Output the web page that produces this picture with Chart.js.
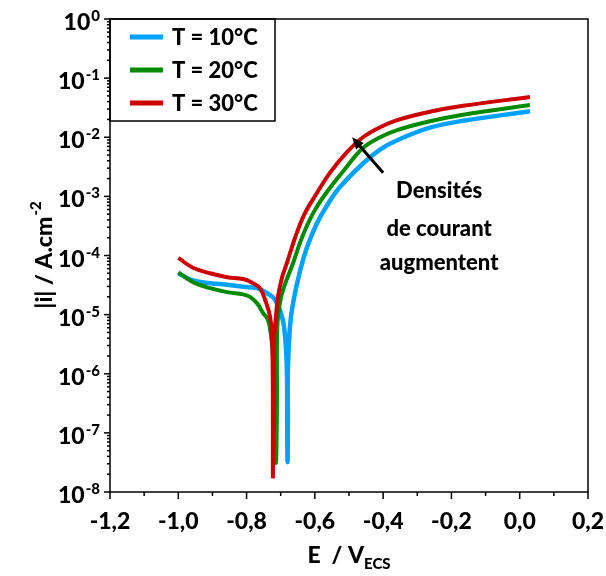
<!DOCTYPE html>
<html>
<head>
<meta charset="utf-8">
<title>Courbes de Tafel</title>
<script src="https://cdn.jsdelivr.net/npm/chart.js@4.4.1/dist/chart.umd.min.js"></script>
<style>
    html, body { margin: 0; padding: 0; background: #fff; }
    #wrap { width: 606px; height: 576px; position: relative; }
</style>
</head>
<body>
<div id="wrap"><canvas id="tafelChart"></canvas></div>
<script>
// potential E (V/ECS) and current density |i| (A.cm-2)
const eBlue = [-1.00, -0.957, -0.907, -0.857, -0.810, -0.769, -0.740, -0.717, -0.696, -0.687, -0.682, -0.681, -0.680,
    -0.679, -0.679, -0.673, -0.664, -0.643, -0.623, -0.594, -0.564, -0.526, -0.459, -0.409, -0.359, -0.263, -0.166, 0.030];
const iBlue = [5.0e-5, 3.8e-5, 3.4e-5, 3.2e-5, 2.95e-5, 2.8e-5, 2.3e-5, 1.8e-5, 9.1e-6, 4.2e-6, 1.15e-6, 1.6e-7, 3.2e-8,
    1.6e-7, 1.15e-6, 6.2e-6, 1.55e-5, 5.6e-5, 1.38e-4, 3.5e-4, 7.1e-4, 1.45e-3, 3.6e-3, 6.2e-3, 8.9e-3, 1.45e-2, 1.9e-2, 2.75e-2];

const eGreen = [-1.00, -0.957, -0.907, -0.857, -0.810, -0.790, -0.769, -0.752, -0.737, -0.728, -0.723, -0.717, -0.714,
    -0.711, -0.711, -0.708, -0.696, -0.664, -0.638, -0.605, -0.567, -0.506, -0.459, -0.409, -0.359, -0.263, -0.166, 0.030];
const iGreen = [5.2e-5, 3.55e-5, 2.8e-5, 2.4e-5, 2.2e-5, 2.0e-5, 1.55e-5, 1.07e-5, 8.1e-6, 4.2e-6, 2.2e-6, 3.5e-7, 3.1e-8,
    3.5e-7, 3.3e-6, 9.1e-6, 2.3e-5, 7.4e-5, 2.0e-4, 5.2e-4, 1.14e-3, 3.2e-3, 6.6e-3, 1.0e-2, 1.32e-2, 1.86e-2, 2.4e-2, 3.5e-2];

const eRed = [-1.00, -0.957, -0.907, -0.857, -0.810, -0.781, -0.761, -0.746, -0.731, -0.725, -0.723, -0.723,
    -0.720, -0.720, -0.714, -0.708, -0.696, -0.682, -0.658, -0.629, -0.594, -0.556, -0.506, -0.459, -0.409, -0.359, -0.263, -0.166, 0.030];
const iRed = [9.1e-5, 6.2e-5, 5.0e-5, 4.3e-5, 4.0e-5, 3.4e-5, 2.8e-5, 1.8e-5, 9.1e-6, 3.3e-6, 3.5e-7, 1.7e-8,
    3.5e-7, 3.3e-6, 9.1e-6, 2.0e-5, 4.3e-5, 7.4e-5, 2.0e-4, 5.2e-4, 1.14e-3, 2.5e-3, 5.6e-3, 1.0e-2, 1.48e-2, 1.95e-2, 2.7e-2, 3.4e-2, 4.8e-2];

const seriesLabels = ['T = 10°C', 'T = 20°C', 'T = 30°C'];

// axis ticks
const xTicks = [-1.2, -1.0, -0.8, -0.6, -0.4, -0.2, 0.0, 0.2];
const xTickLabels = ['-1,2', '-1,0', '-0,8', '-0,6', '-0,4', '-0,2', '0,0', '0,2'];
const xMinorTicks = [-1.1, -0.9, -0.7, -0.5, -0.3, -0.1, 0.1];
const yExponents = [0, -1, -2, -3, -4, -5, -6, -7, -8];

// annotation (arrow + text), in data units
const arrowFrom = [-0.400, 2.5e-3];
const arrowTo = [-0.491, 1.0e-2];
const noteLines = ['Densités', 'de courant', 'augmentent'];
const noteX = -0.236;
const noteY = [1.25e-3, 2.8e-4, 7.6e-5];

const colors = ['#00a2ff', '#008a00', '#cc0000'];
const FONT = 'Lato, "Open Sans", sans-serif';
const W = '900 ';

function toPoints(es, is) {
    return es.map((e, k) => ({ x: e, y: is[k] }));
}

// frame, ticks, tick labels, titles, legend and note
const decorPlugin = {
    id: 'tafelDecor',
    afterDraw(chart) {
        const ctx = chart.ctx;
        const a = chart.chartArea;
        const x = chart.scales.x;
        const y = chart.scales.y;
        ctx.save();
        ctx.strokeStyle = '#000';
        ctx.fillStyle = '#000';
        ctx.lineWidth = 1.5;

        function seg(x1, y1, x2, y2) {
            ctx.beginPath();
            ctx.moveTo(x1, y1);
            ctx.lineTo(x2, y2);
            ctx.stroke();
        }

        // frame
        ctx.strokeRect(a.left, a.top, a.right - a.left, a.bottom - a.top);

        // x ticks
        xTicks.forEach((v, k) => {
            const px = x.getPixelForValue(v);
            seg(px, a.bottom, px, a.bottom + 7);
            ctx.font = W + '23px ' + FONT;
            ctx.textAlign = 'center';
            ctx.textBaseline = 'alphabetic';
            ctx.fillText(xTickLabels[k], px, a.bottom + 37);
        });
        xMinorTicks.forEach(v => {
            const px = x.getPixelForValue(v);
            seg(px, a.bottom, px, a.bottom + 4);
        });

        // y ticks (decades + minor)
        yExponents.forEach(n => {
            const py = y.getPixelForValue(Math.pow(10, n));
            seg(a.left - 6, py, a.left, py);
            if (n > -8) {
                for (let m = 2; m <= 9; m++) {
                    const pm = y.getPixelForValue(m * Math.pow(10, n - 1));
                    seg(a.left - 3, pm, a.left, pm);
                }
            }
            const sup = String(n);
            ctx.textAlign = 'right';
            ctx.textBaseline = 'alphabetic';
            ctx.font = W + '15px ' + FONT;
            const right = a.left - 10;
            const supW = ctx.measureText(sup).width;
            ctx.fillText(sup, right, py + 2);
            ctx.font = W + '23px ' + FONT;
            ctx.fillText('10', right - supW - 1, py + 11);
        });

        // x title: E / V_ECS
        const cx = (a.left + a.right) / 2;
        ctx.textAlign = 'left';
        ctx.font = W + '23px ' + FONT;
        const mainT = 'E  / V';
        const mw = ctx.measureText(mainT).width;
        ctx.font = W + '15px ' + FONT;
        const sw = ctx.measureText('ECS').width;
        const startX = cx - (mw + sw) / 2;
        ctx.font = W + '23px ' + FONT;
        ctx.fillText(mainT, startX, a.bottom + 71);
        ctx.font = W + '15px ' + FONT;
        ctx.fillText('ECS', startX + mw, a.bottom + 77);

        // y title: |i| / A.cm-2
        ctx.save();
        ctx.translate(a.left - 66, (a.top + a.bottom) / 2);
        ctx.rotate(-Math.PI / 2);
        ctx.font = W + '23px ' + FONT;
        const yt = '|i| / A.cm';
        const yw = ctx.measureText(yt).width;
        ctx.font = W + '15px ' + FONT;
        const yw2 = ctx.measureText('-2').width;
        const y0 = -(yw + yw2) / 2;
        ctx.font = W + '23px ' + FONT;
        ctx.fillText(yt, y0, 8);
        ctx.font = W + '15px ' + FONT;
        ctx.fillText('-2', y0 + yw + 1, -3);
        ctx.restore();

        // legend box
        ctx.lineWidth = 1.5;
        ctx.strokeRect(a.left, a.top, 165, 102);
        seriesLabels.forEach((lab, k) => {
            const ry = a.top + 18 + k * 33;
            ctx.strokeStyle = colors[k];
            ctx.lineWidth = 5;
            seg(a.left + 20, ry, a.left + 53, ry);
            ctx.fillStyle = '#000';
            ctx.font = W + '22px ' + FONT;
            ctx.textAlign = 'left';
            ctx.fillText(lab, a.left + 62, ry + 8);
        });

        // arrow
        const ax1 = x.getPixelForValue(arrowFrom[0]), ay1 = y.getPixelForValue(arrowFrom[1]);
        const ax2 = x.getPixelForValue(arrowTo[0]), ay2 = y.getPixelForValue(arrowTo[1]);
        const ang = Math.atan2(ay2 - ay1, ax2 - ax1);
        const head = 13;
        ctx.strokeStyle = '#000';
        ctx.lineWidth = 3;
        seg(ax1, ay1, ax2 - Math.cos(ang) * head * 0.8, ay2 - Math.sin(ang) * head * 0.8);
        ctx.beginPath();
        ctx.moveTo(ax2, ay2);
        ctx.lineTo(ax2 - head * Math.cos(ang - 0.4), ay2 - head * Math.sin(ang - 0.4));
        ctx.lineTo(ax2 - head * Math.cos(ang + 0.4), ay2 - head * Math.sin(ang + 0.4));
        ctx.closePath();
        ctx.fill();

        // note text
        ctx.font = W + '22px ' + FONT;
        ctx.textAlign = 'center';
        ctx.textBaseline = 'middle';
        noteLines.forEach((t, k) => {
            ctx.fillText(t, x.getPixelForValue(noteX), y.getPixelForValue(noteY[k]));
        });

        ctx.restore();
    }
};

const ctx = document.getElementById('tafelChart').getContext('2d');
new Chart(ctx, {
    type: 'scatter',
    data: {
        datasets: [
            { label: seriesLabels[0], data: toPoints(eBlue, iBlue), borderColor: colors[0], borderWidth: 4.5, order: 2 },
            { label: seriesLabels[1], data: toPoints(eGreen, iGreen), borderColor: colors[1], borderWidth: 4, order: 1 },
            { label: seriesLabels[2], data: toPoints(eRed, iRed), borderColor: colors[2], borderWidth: 4, order: 0 }
        ].map(d => Object.assign(d, { showLine: true, pointRadius: 0, tension: 0.4, fill: false }))
    },
    options: {
        responsive: true,
        maintainAspectRatio: false,
        animation: false,
        layout: {
            padding: { left: 110, top: 19, right: 18, bottom: 84 }
        },
        scales: {
            x: { type: 'linear', min: -1.2, max: 0.2, display: false },
            y: { type: 'logarithmic', min: 1e-8, max: 1, display: false }
        },
        plugins: {
            legend: { display: false },
            tooltip: { enabled: false }
        }
    },
    plugins: [decorPlugin]
});
</script>
</body>
</html>
